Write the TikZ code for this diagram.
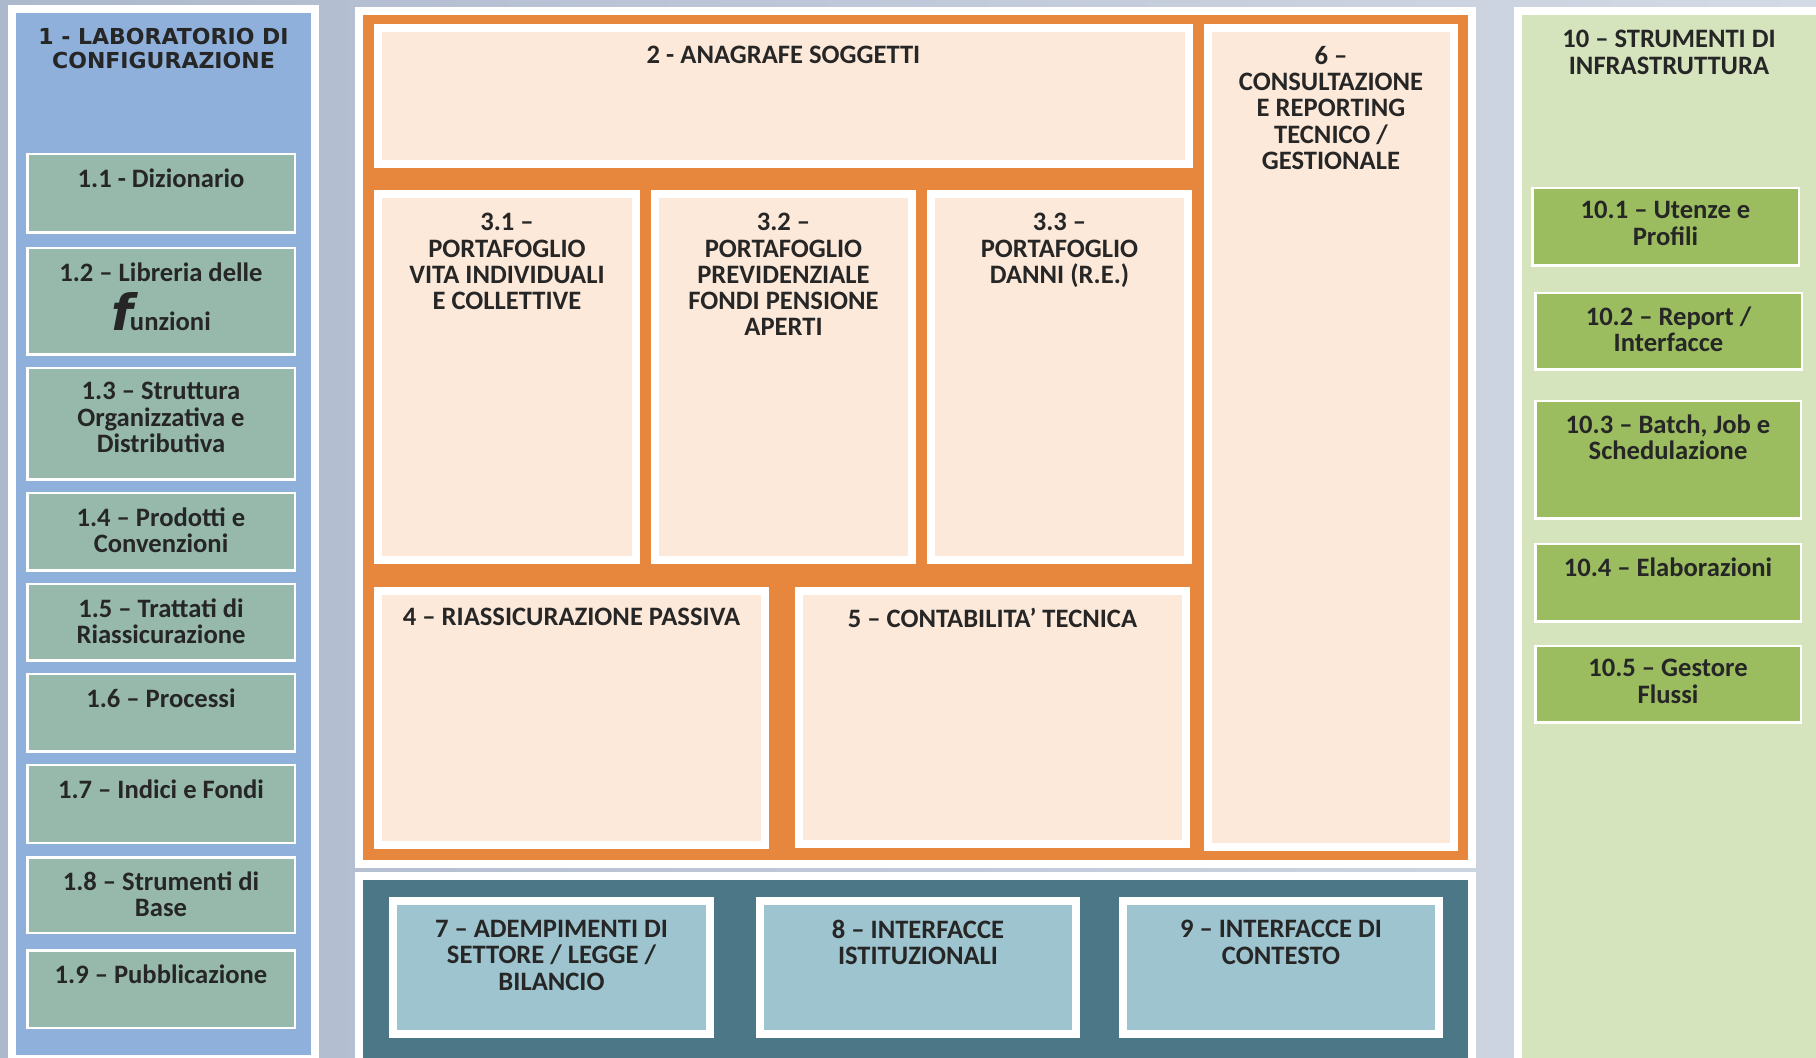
\documentclass[tikz,border=0pt]{standalone}
\usepackage{fontspec}
\setmainfont{Carlito}
\newfontfamily\wideface{DejaVu Sans}
\usetikzlibrary{fit,positioning}

\definecolor{backleft}{RGB}{172,184,204}
\definecolor{backright}{RGB}{212,218,229}
\definecolor{labblue}{RGB}{143,176,218}
\definecolor{labbox}{RGB}{150,185,172}
\definecolor{coreorange}{RGB}{231,135,62}
\definecolor{peach}{RGB}{253,233,217}
\definecolor{interteal}{RGB}{75,119,134}
\definecolor{interbox}{RGB}{157,196,207}
\definecolor{infragreen}{RGB}{214,228,190}
\definecolor{infrabox}{RGB}{155,189,96}
\definecolor{ink}{RGB}{38,38,38}

\begin{document}
\begin{tikzpicture}[x=0.5pt,y=-0.5pt,
  panel/.style={draw=white,line width=4pt,inner sep=0pt},
  bigbox/.style={draw=white,line width=4pt,inner sep=0pt},
  smallbox/.style={draw=white,line width=1.25pt,inner sep=0pt},
  txt/.style={font=\bfseries\fontsize{13.3}{13.1}\selectfont,text=ink,align=center,inner sep=0pt},
  widetxt/.style={font=\wideface\bfseries\fontsize{11}{12}\selectfont,text=ink,align=center,inner sep=0pt}]
\useasboundingbox (0,0) rectangle (1816,1058);
\clip (0,0) rectangle (1816,1058);
\shade[left color=backleft,right color=backright] (0,0) rectangle (1816,1058);

% panels
\node[panel,fill=labblue,fit={(12,9)(315,1058.5)}] (lab) {};
\node[panel,fill=coreorange,fit={(359,11)(1472,864)}] (core) {};
\node[panel,fill=interteal,fit={(359,876)(1472,1070)}] (inter) {};
\node[panel,fill=infragreen,fit={(1518,11)(1820,1070)}] (infra) {};

\node[widetxt,below=11.5pt of lab.north] (labtitle) {1 - LABORATORIO DI\\CONFIGURAZIONE};
\node[txt,below=11.5pt of infra.north] (infratitle) {10 -- STRUMENTI DI\\INFRASTRUTTURA};

% 1 - laboratorio
\node[smallbox,fill=labbox,fit={(27.25,154.25)(294.75,232.75)}] (diz) {};
\node[txt,below=7.5pt of diz.north] (diztxt) {1.1 - Dizionario};
\node[smallbox,fill=labbox,fit={(27.25,248.25)(294.75,354.75)}] (lib) {};
\node[txt,below=7.5pt of lib.north] (libtxt) {1.2 -- Libreria delle\\[11.4pt]\smash{\wideface\fontsize{25}{25}\selectfont\itshape f}\kern-1.5pt unzioni};
\node[smallbox,fill=labbox,fit={(27.25,368.25)(294.75,479.75)}] (strut) {};
\node[txt,below=7.5pt of strut.north] (struttxt) {1.3 -- Struttura\\Organizzativa e\\Distributiva};
\node[smallbox,fill=labbox,fit={(27.25,493.25)(294.75,570.75)}] (prod) {};
\node[txt,below=7.5pt of prod.north] (prodtxt) {1.4 -- Prodotti e\\Convenzioni};
\node[smallbox,fill=labbox,fit={(27.25,584.25)(294.75,660.75)}] (tratt) {};
\node[txt,below=7.5pt of tratt.north] (tratttxt) {1.5 -- Trattati di\\Riassicurazione};
\node[smallbox,fill=labbox,fit={(27.25,674.25)(294.75,751.75)}] (proc) {};
\node[txt,below=7.5pt of proc.north] (proctxt) {1.6 -- Processi};
\node[smallbox,fill=labbox,fit={(27.25,765.25)(294.75,842.75)}] (indici) {};
\node[txt,below=7.5pt of indici.north] (indicitxt) {1.7 -- Indici e Fondi};
\node[smallbox,fill=labbox,fit={(27.25,857.25)(294.75,932.75)}] (base) {};
\node[txt,below=7.5pt of base.north] (basetxt) {1.8 -- Strumenti di\\Base};
\node[smallbox,fill=labbox,fit={(27.25,950.25)(294.75,1027.75)}] (pubbl) {};
\node[txt,below=7.5pt of pubbl.north] (pubbltxt) {1.9 -- Pubblicazione};

% 2 .. 6 - nucleo
\node[bigbox,fill=peach,fit={(378,28)(1189,164)}] (anag) {};
\node[txt,below=11pt of anag.north] (anagtxt) {2 - ANAGRAFE SOGGETTI};
\node[bigbox,fill=peach,fit={(378,194)(636,560)}] (vita) {};
\node[txt,below=11.5pt of vita.north] (vitatxt) {3.1 --\\PORTAFOGLIO\\VITA INDIVIDUALI\\E COLLETTIVE};
\node[bigbox,fill=peach,fit={(655,194)(912,560)}] (prev) {};
\node[txt,below=11.5pt of prev.north] (prevtxt) {3.2 --\\PORTAFOGLIO\\PREVIDENZIALE\\FONDI PENSIONE\\APERTI};
\node[bigbox,fill=peach,fit={(931,194)(1188,560)}] (danni) {};
\node[txt,below=11.5pt of danni.north] (dannitxt) {3.3 --\\PORTAFOGLIO\\DANNI (R.E.)};
\node[bigbox,fill=peach,fit={(378,591)(765,845)}] (riass) {};
\node[txt,below=10.5pt of riass.north] (riasstxt) {4 -- RIASSICURAZIONE PASSIVA};
\node[bigbox,fill=peach,fit={(799,591)(1186,844)}] (contab) {};
\node[txt,below=10.5pt of contab.north] (contabtxt) {5 -- CONTABILITA’ TECNICA};
\node[bigbox,fill=peach,fit={(1208,28)(1454,847)}] (consult) {};
\node[txt,below=11pt of consult.north] (consulttxt) {6 --\\CONSULTAZIONE\\E REPORTING\\TECNICO /\\GESTIONALE};

% 7 .. 9 - interfacce
\node[bigbox,fill=interbox,fit={(393,901)(710,1034)}] (adem) {};
\node[txt,below=11.5pt of adem.north] (ademtxt) {7 -- ADEMPIMENTI DI\\SETTORE / LEGGE /\\BILANCIO};
\node[bigbox,fill=interbox,fit={(760,901)(1076,1034)}] (istit) {};
\node[txt,below=11.5pt of istit.north] (istittxt) {8 -- INTERFACCE\\ISTITUZIONALI};
\node[bigbox,fill=interbox,fit={(1123,901)(1439,1034)}] (contesto) {};
\node[txt,below=11.5pt of contesto.north] (contestotxt) {9 -- INTERFACCE DI\\CONTESTO};

% 10 - infrastruttura
\node[smallbox,fill=infrabox,fit={(1532.25,188.25)(1798.75,265.75)}] (utenze) {};
\node[txt,below=7pt of utenze.north] (utenzetxt) {10.1 -- Utenze e\\Profili};
\node[smallbox,fill=infrabox,fit={(1535.25,293.25)(1801.75,369.75)}] (report) {};
\node[txt,below=7pt of report.north] (reporttxt) {10.2 -- Report /\\Interfacce};
\node[smallbox,fill=infrabox,fit={(1535.25,401.25)(1800.75,518.75)}] (batch) {};
\node[txt,below=7pt of batch.north] (batchtxt) {10.3 -- Batch, Job e\\Schedulazione};
\node[smallbox,fill=infrabox,fit={(1535.25,544.25)(1800.75,621.75)}] (elab) {};
\node[txt,below=7pt of elab.north] (elabtxt) {10.4 -- Elaborazioni};
\node[smallbox,fill=infrabox,fit={(1535.25,646.25)(1800.75,722.75)}] (flussi) {};
\node[txt,below=7pt of flussi.north] (flussitxt) {10.5 -- Gestore\\Flussi};
\end{tikzpicture}
\end{document}
